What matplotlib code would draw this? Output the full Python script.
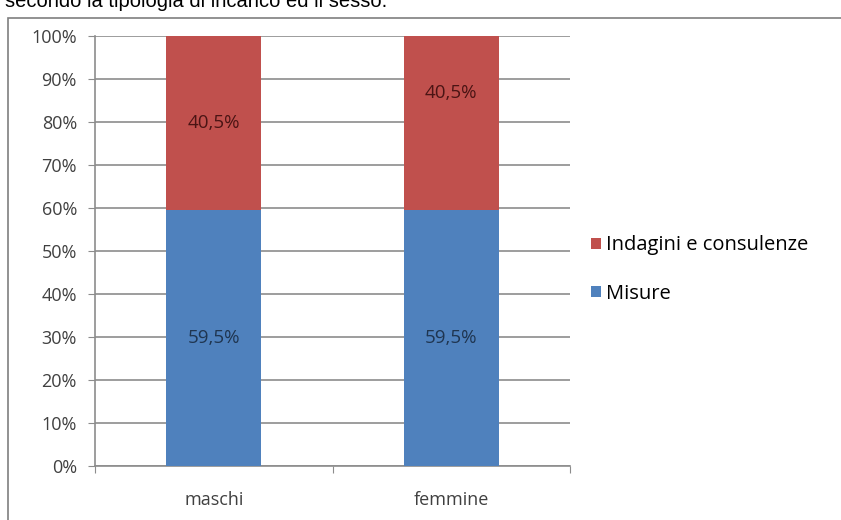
import matplotlib
matplotlib.use("Agg")
import matplotlib.pyplot as plt
from matplotlib.patches import Rectangle

categories = ["maschi", "femmine"]
misure = [59.5, 59.5]
indagini = [40.5, 40.5]
series_names = ["Misure", "Indagini e consulenze"]
yticks = [0, 10, 20, 30, 40, 50, 60, 70, 80, 90, 100]

blue = "#4F81BD"
red = "#C0504D"
grid_col = "#8C8C8C"

plt.rcParams["font.family"] = ["Open Sans", "DejaVu Sans"]

fig = plt.figure(figsize=(8.41, 5.20), dpi=100)

# pieces of the page around the chart
fig.text(5 / 841, 1 - 7 / 520, "secondo la tipologia di incarico ed il sesso.",
         fontsize=14.5, family=["Liberation Sans", "DejaVu Sans"], va="baseline", ha="left")
fig.patches.append(Rectangle((8 / 841, -0.1), 1.0, 1 - 18 / 520 + 0.1,
                             transform=fig.transFigure, fill=False,
                             edgecolor="#7F7F7F", linewidth=1.2))

ax = fig.add_axes([95 / 841, 54 / 520, 475 / 841, 430 / 520])
x = range(len(categories))
b1 = ax.bar(x, misure, width=0.4, color=blue, label=series_names[0], zorder=3)
b2 = ax.bar(x, indagini, width=0.4, bottom=misure, color=red, label=series_names[1], zorder=3)

for i in x:
    ax.text(i, misure[i] / 2, f"{misure[i]:.1f}%".replace(".", ","),
            ha="center", va="center", fontsize=13.5, color="#1f3550", zorder=4)
# the second label sits higher in the original
lab_off = [0, 7]
for i in x:
    ax.text(i, misure[i] + indagini[i] / 2 + lab_off[i], f"{indagini[i]:.1f}%".replace(".", ","),
            ha="center", va="center", fontsize=13.5, color="#4a1414", zorder=4)

ax.set_xlim(-0.5, 1.5)
ax.set_ylim(0, 100)
ax.set_yticks(yticks)
ax.set_yticklabels([f"{t}%" for t in yticks], fontsize=13, color="#404040")
ax.set_xticks([-0.5, 0.5, 1.5])
ax.set_xticklabels([])
ax.set_xticks(list(x), minor=True)
ax.set_xticklabels(categories, minor=True, fontsize=13, color="#404040")
ax.tick_params(axis="x", which="minor", length=0, pad=18)
ax.tick_params(axis="x", which="major", length=5, color=grid_col, direction="out")
ax.tick_params(axis="y", length=5, color=grid_col, direction="out", pad=8)
ax.yaxis.grid(True, color=grid_col, linewidth=1.2, zorder=0)
ax.set_axisbelow(True)
for s in ["top", "right"]:
    ax.spines[s].set_visible(False)
for s in ["left", "bottom"]:
    ax.spines[s].set_color(grid_col)
    ax.spines[s].set_linewidth(1.2)

ax.legend(handles=[b2, b1], loc="center left", bbox_to_anchor=(1.005, 0.457),
          frameon=False, fontsize=14.5, handlelength=0.5, handleheight=0.5,
          handletextpad=0.25, labelspacing=1.4)

fig.savefig("out.png", dpi=100)
